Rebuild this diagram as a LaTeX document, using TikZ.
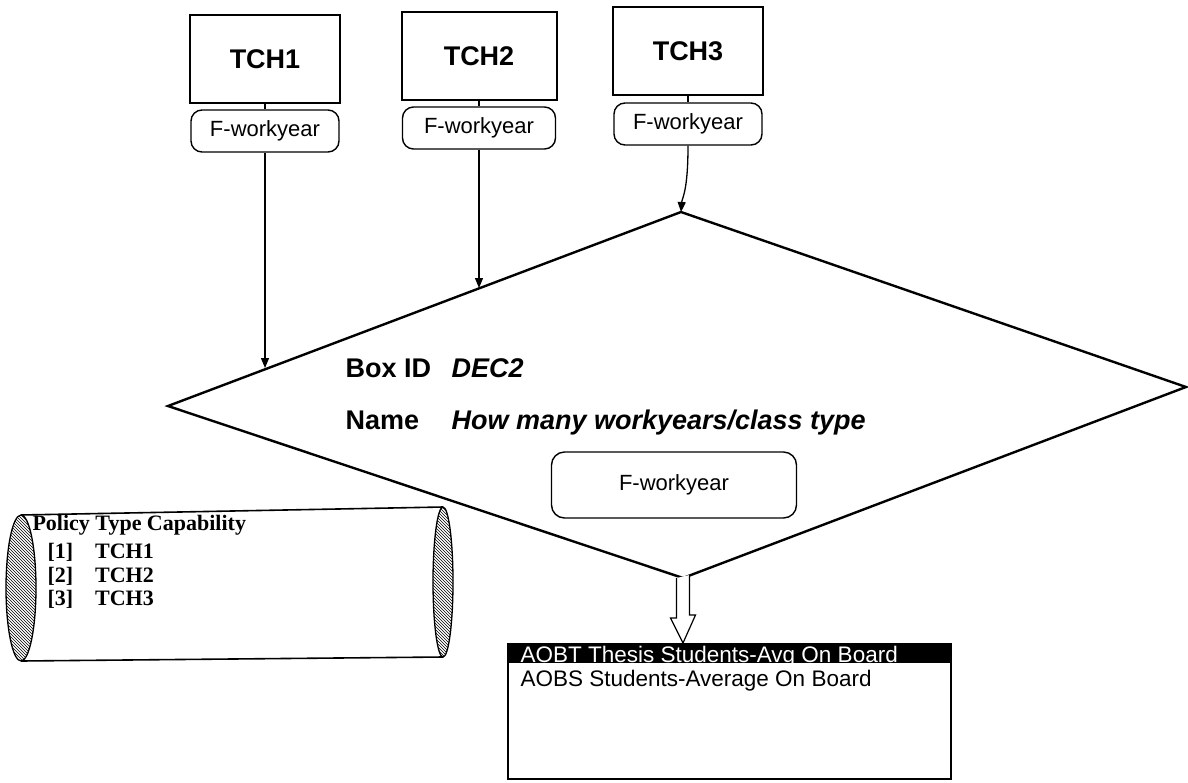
\documentclass[tikz,border=0pt]{standalone}
\usepackage{fontspec}
\setmainfont{Liberation Sans}
\newfontfamily\timesfont{Liberation Serif}
\usetikzlibrary{arrows.meta,patterns}

\begin{document}
\begin{tikzpicture}[x=1pt,y=-1pt]
    \tikzset{tchbox/.style={draw, line width=2pt, minimum width=150pt, minimum height=88pt, inner sep=0pt, font=\bfseries\fontsize{27}{30}\selectfont},
        pill/.style={draw, line width=1.4pt, rounded corners=11pt, minimum width=148pt, minimum height=42pt, inner sep=0pt, font=\fontsize{22}{24}\selectfont},
        flow/.style={line width=1.3pt, -{Triangle[length=10pt,width=8pt]}},
        idtext/.style={anchor=base west, font=\bfseries\fontsize{27}{30}\selectfont},
        pol/.style={anchor=base west, font=\timesfont\bfseries\fontsize{22}{24}\selectfont},
        lsttext/.style={anchor=base west, font=\fontsize{22.5}{25}\selectfont}}
    \useasboundingbox (0,0) rectangle (1188,782);

    % policy boxes with their outputs
    \node[tchbox] (t1) at (265,59) {TCH1};
    \node[tchbox, minimum width=155pt] (t2) at (479,56) {TCH2};
    \node[tchbox] (t3) at (688,51) {TCH3};
    \node[pill] (f1) at (265,131) {F-workyear};
    \node[pill, minimum width=153pt] (f2) at (479,128) {F-workyear};
    \node[pill] (f3) at (688,124) {F-workyear};
    \draw[line width=1.2pt] (t1) -- (f1);
    \draw[line width=1.2pt] (t2) -- (f2);
    \draw[line width=1.2pt] (t3) -- (f3);

    % decision diamond
    \coordinate (dt) at (681,212);
    \coordinate (dr) at (1186,387);
    \coordinate (db) at (683,578);
    \coordinate (dl) at (168,406);
    \draw[line width=2.4pt, line join=miter] (dt) -- (dr) -- (db) -- (dl) -- cycle;
    \coordinate (in1) at (265,368);
    \coordinate (in2) at (479,288);
    \draw[flow] (f1) -- (in1);
    \draw[flow] (f2) -- (in2);
    \draw[flow] (f3.south) .. controls (688,192) and (682,198) .. (dt);

    \node[idtext] (boxid) at (342,377) {Box ID};
    \node[idtext] (dec) at (448,377) {\itshape DEC2};
    \node[idtext] (name) at (342,429) {Name};
    \node[idtext] (howmany) at (448,429) {\itshape How many workyears/class type};
    \node[pill, minimum width=245pt, minimum height=66pt, rounded corners=13pt] (fd) at (674,485) {F-workyear};

    % capability cylinder
    \draw[line width=1.6pt] (21,515) -- (443,507) (21,661) -- (443,657);
    \draw[line width=1.3pt, fill=white, pattern=north west lines] (21,588) ellipse [x radius=15, y radius=73];
    \draw[line width=1.3pt, fill=white, pattern=north west lines] (443,582) ellipse [x radius=10, y radius=75];
    \node[pol] (pt) at (29,530) {Policy Type Capability};
    \node[pol] (p1) at (44,558) {[1]\hspace{22pt}TCH1};
    \node[pol] (p2) at (44,582) {[2]\hspace{22pt}TCH2};
    \node[pol] (p3) at (44,605) {[3]\hspace{22pt}TCH3};

    % output list
    \node[draw, line width=1.6pt, minimum width=443pt, minimum height=135pt, anchor=north west, inner sep=0pt] (lst) at (507,643) {};
    \fill (lst.north west) rectangle ++(443,20);
    \node[lsttext, text=white] (aobt) at (517,662) {AOBT Thesis Students-Avg On Board};
    \node[lsttext] (aobs) at (517,686) {AOBS Students-Average On Board};

    % wide arrow into the list
    \coordinate (tip) at (lst.north -| db);
    \draw[line width=1.2pt, fill=white, line join=miter] (db) ++(-6.5,0) -- ++(0,40) -- ++(-6,0) -- (tip) -- ++(12.5,-28) -- ++(-6,0) -- ++(0,-40);
\end{tikzpicture}
\end{document}
